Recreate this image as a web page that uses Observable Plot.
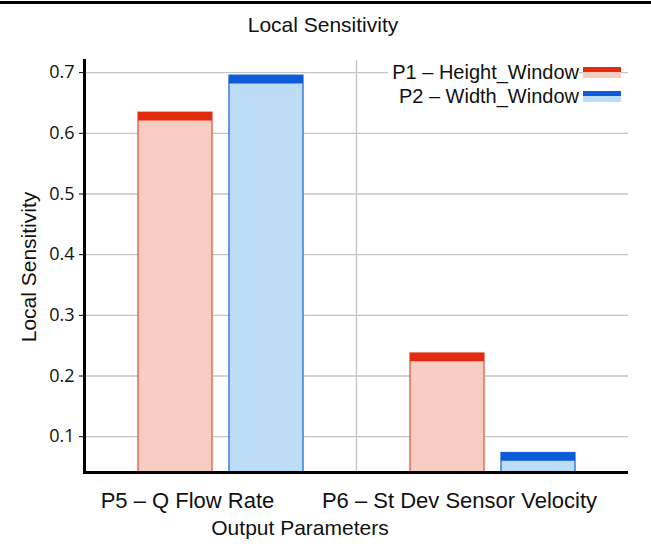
<!DOCTYPE html>
<html>
<head>
<meta charset="utf-8">
<script src="https://cdn.jsdelivr.net/npm/d3@7"></script>
<script src="https://cdn.jsdelivr.net/npm/@observablehq/plot@0.6"></script>
<style>
  html, body { margin: 0; padding: 0; background: #fff; }
  #wrap { position: relative; width: 651px; height: 547px; font-family: "Liberation Sans", Arial, sans-serif; color: #111; overflow: hidden; }
  #wrap svg { position: absolute; left: 0; top: 0; }
  .abs { position: absolute; white-space: nowrap; line-height: 1; }
</style>
</head>
<body>
<div id="wrap"></div>
<script>
// ---- data ----
const params = ["P5 – Q Flow Rate", "P6 – St Dev Sensor Velocity"];
const series = ["P1 – Height_Window", "P2 – Width_Window"];
const p1Values = [0.634, 0.237];
const p2Values = [0.695, 0.073];
const yTicks = [0.1, 0.2, 0.3, 0.4, 0.5, 0.6, 0.7];
const yDomain = [0.041, 0.72];
const titleText = "Local Sensitivity";
const yLabel = "Local Sensitivity";
const xLabel = "Output Parameters";

const fills = {[series[0]]: "#f7cdc1", [series[1]]: "#bddcf6"};
const strokes = {[series[0]]: "#e0705c", [series[1]]: "#3d7fd9"};
const caps = {[series[0]]: "#e22b0f", [series[1]]: "#0c5bd9"};

const rows = [];
params.forEach((p, i) => {
  rows.push({param: p, series: series[0], value: p1Values[i]});
  rows.push({param: p, series: series[1], value: p2Values[i]});
});

const chart = Plot.plot({
  width: 651,
  height: 547,
  marginTop: 60,
  marginBottom: 75,
  marginLeft: 84,
  marginRight: 23,
  style: {fontFamily: "Liberation Sans, Arial, sans-serif", fontSize: "16px", color: "#111", background: "transparent"},
  fx: {domain: params, padding: 0, axis: null},
  x: {domain: series, paddingInner: 0.187, paddingOuter: 0.588, axis: null},
  y: {domain: yDomain, axis: null},
  marks: [
    Plot.gridY(yTicks, {stroke: "#c4c4c4", strokeOpacity: 1, strokeWidth: 1.3}),
    Plot.frame({anchor: "left", stroke: "#c4c4c4", strokeWidth: 1.3}),
    Plot.barY(rows, {
      fx: "param", x: "series", y: "value",
      fill: d => fills[d.series], stroke: d => strokes[d.series], strokeWidth: 1.5,
      clip: true
    }),
    Plot.tickY(rows, {
      fx: "param", x: "series", y: "value",
      stroke: d => caps[d.series], strokeWidth: 8.5, dy: 3.5
    }),
    Plot.ruleY([yDomain[0]], {stroke: "#000", strokeWidth: 3}),
    Plot.frame({anchor: "left", stroke: "#000", strokeWidth: 3, fx: [params[0]]}),
    Plot.axisY(yTicks, {
      anchor: "left", tickSize: 5, tickPadding: 5, stroke: "#000",
      fontSize: 18, fontFamily: "Open Sans, sans-serif", label: null,
      tickFormat: d => d.toFixed(1)
    }),
    Plot.axisFx({
      anchor: "bottom", tickSize: 0, tickPadding: 20, fontSize: 22,
      label: null, dx: -33
    })
  ]
});

const wrap = document.getElementById("wrap");
wrap.appendChild(chart);

// top border line
const bar = document.createElement("div");
bar.className = "abs";
bar.style.cssText = "left:0;top:1px;width:651px;height:3px;background:#000;";
wrap.appendChild(bar);

// title
const t = document.createElement("div");
t.className = "abs";
t.textContent = titleText;
t.style.cssText = "left:323px;top:14px;transform:translateX(-50%);font-size:21px;";
wrap.appendChild(t);

// y label
const yl = document.createElement("div");
yl.className = "abs";
yl.textContent = yLabel;
yl.style.cssText = "left:28px;top:267px;transform:translate(-50%,-50%) rotate(-90deg);font-size:21px;";
wrap.appendChild(yl);

// x label
const xl = document.createElement("div");
xl.className = "abs";
xl.textContent = xLabel;
xl.style.cssText = "left:300px;top:517px;transform:translateX(-50%);font-size:21px;";
wrap.appendChild(xl);

// legend
series.forEach((s, i) => {
  const cy = 72 + i * 24;
  const lab = document.createElement("div");
  lab.className = "abs";
  lab.textContent = s;
  lab.style.cssText = `right:${651 - 579}px;top:${cy - 10}px;font-size:20px;background:#fff;padding-left:4px;`;
  wrap.appendChild(lab);
  const sw = document.createElement("div");
  sw.className = "abs";
  sw.style.cssText = `left:583px;top:${cy - 5}px;width:38px;height:11px;`;
  sw.innerHTML = `<div style="height:5px;background:${caps[s]}"></div><div style="height:6px;background:${fills[s]}"></div>`;
  wrap.appendChild(sw);
});
</script>
</body>
</html>
